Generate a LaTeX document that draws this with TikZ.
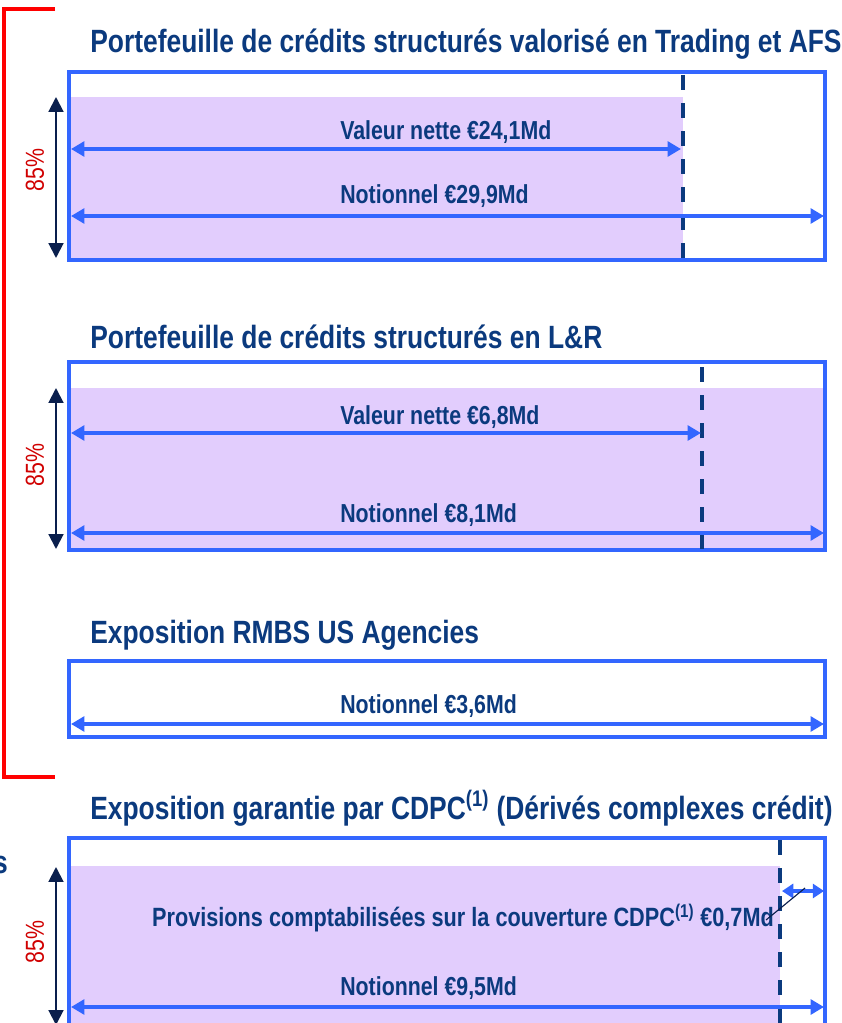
\documentclass[tikz,border=0pt]{standalone}
\usepackage{fontspec}
\setmainfont[FakeStretch=0.82]{Liberation Sans}
\usetikzlibrary{arrows.meta}
\definecolor{bleu}{HTML}{3366FF}
\definecolor{marine}{HTML}{0B3A7E}
\definecolor{nuit}{HTML}{0A1F4D}
\definecolor{lilas}{HTML}{E2CDFD}
\definecolor{rouge}{HTML}{FF0000}
\definecolor{pourcent}{HTML}{D00000}
\tikzset{
  cadre/.style={draw=bleu,line width=2.8pt},
  zone/.style={fill=lilas},
  titre/.style={font=\fontsize{22.9}{27}\selectfont\bfseries,text=marine,anchor=base west,inner sep=0pt},
  lib/.style={font=\fontsize{18.5}{22}\selectfont\bfseries,text=marine,anchor=base west,inner sep=0pt},
  cote/.style={{Triangle[length=9.5pt,width=10.5pt]}-{Triangle[length=9.5pt,width=10.5pt]},bleu,line width=2.8pt},
  haut/.style={{Triangle[length=10.5pt,width=10.5pt]}-{Triangle[length=10.5pt,width=10.5pt]},nuit,line width=1.4pt},
  seuil/.style={marine,line width=2.8pt,dash pattern=on 0.375cm off 0.325cm},
  pct/.style={font=\fontsize{18.5}{22}\selectfont,text=pourcent,rotate=90,inner sep=0pt},
  accolade/.style={rouge,line width=2.2pt},
}

\begin{document}
\begin{tikzpicture}[x=0.025cm,y=-0.025cm]
\path[use as bounding box] (0,0) rectangle (841,1023);
\clip (0,0) rectangle (841,1023);
% accolade rouge sur les trois premiers blocs
\coordinate (rh) at (55,9);
\coordinate (rb) at (55,777);
\draw[accolade] (rh) -- (4,9) -- (4,777) -- (rb);

% bloc 1 : Trading et AFS
\node[titre] (t1) at (90,53) {Portefeuille de crédits structurés valorisé en Trading et AFS};
\fill[zone] (69,97) rectangle (683,260);
\draw[cadre] (69,72) rectangle (825,260);
\coordinate (s1h) at (683,75); \coordinate (s1b) at (683,259);
\draw[seuil] (s1h) -- (s1b);
\coordinate (v1g) at (71,149); \coordinate (v1d) at (681,149);
\coordinate (n1g) at (71,216); \coordinate (n1d) at (824,216);
\draw[cote] (v1g) -- (v1d);
\draw[cote] (n1g) -- (n1d);
\node[lib] (v1) at (340,140) {Valeur nette €24,1Md};
\node[lib] (n1) at (340,204) {Notionnel €29,9Md};
\coordinate (h1h) at (56,97); \coordinate (h1b) at (56,258);
\draw[haut] (h1h) -- (h1b);
\node[pct] (p1) at (35,170) {85\%};

% bloc 2 : L&R
\node[titre] (t2) at (90,348) {Portefeuille de crédits structurés en L\&R};
\fill[zone] (69,388) rectangle (825,550);
\draw[cadre] (69,362) rectangle (825,550);
\coordinate (s2h) at (702,367); \coordinate (s2b) at (702,549);
\draw[seuil] (s2h) -- (s2b);
\coordinate (v2g) at (71,433); \coordinate (v2d) at (701,433);
\coordinate (n2g) at (71,533); \coordinate (n2d) at (824,533);
\draw[cote] (v2g) -- (v2d);
\draw[cote] (n2g) -- (n2d);
\node[lib] (v2) at (340,424) {Valeur nette €6,8Md};
\node[lib] (n2) at (340,522) {Notionnel €8,1Md};
\coordinate (h2h) at (56,388); \coordinate (h2b) at (56,549);
\draw[haut] (h2h) -- (h2b);
\node[pct] (p2) at (35,465) {85\%};

% bloc 3 : RMBS
\node[titre] (t3) at (90,643) {Exposition RMBS US Agencies};
\draw[cadre] (69,661) rectangle (825,737);
\coordinate (n3g) at (71,724); \coordinate (n3d) at (824,724);
\draw[cote] (n3g) -- (n3d);
\node[lib] (n3) at (340,713) {Notionnel €3,6Md};

% bloc 4 : CDPC
\node[titre] (t4) at (90,819) {Exposition garantie par CDPC\textsuperscript{(1)} (Dérivés complexes crédit)};
\node[titre,anchor=base east] (coupe) at (8,873) {s};
\fill[zone] (69,866) rectangle (780,1040);
\draw[cadre] (69,838) rectangle (825,1040);
\coordinate (s4h) at (780,840); \coordinate (s4b) at (780,1040);
\draw[seuil] (s4h) -- (s4b);
\coordinate (c4g) at (782,891); \coordinate (c4d) at (824,891);
\draw[cote,{Triangle[length=8pt,width=10pt]}-{Triangle[length=8pt,width=10pt]}] (c4g) -- (c4d);
\node[lib,anchor=base,font=\fontsize{18.8}{22}\selectfont\bfseries] (pr) at (463,926) {Provisions comptabilisées sur la couverture CDPC\textsuperscript{(1)} €0,7Md};
\coordinate (r4) at (805,888); \coordinate (r4b) at (766,920);
\draw[nuit,line width=0.8pt] (r4) -- (r4b);
\coordinate (n4g) at (71,1007); \coordinate (n4d) at (824,1007);
\draw[cote] (n4g) -- (n4d);
\node[lib] (n4) at (340,995) {Notionnel €9,5Md};
\coordinate (h4h) at (56,867); \coordinate (h4b) at (56,1025);
\draw[haut] (h4h) -- (h4b);
\node[pct] (p4) at (35,942) {85\%};
\end{tikzpicture}
\end{document}
